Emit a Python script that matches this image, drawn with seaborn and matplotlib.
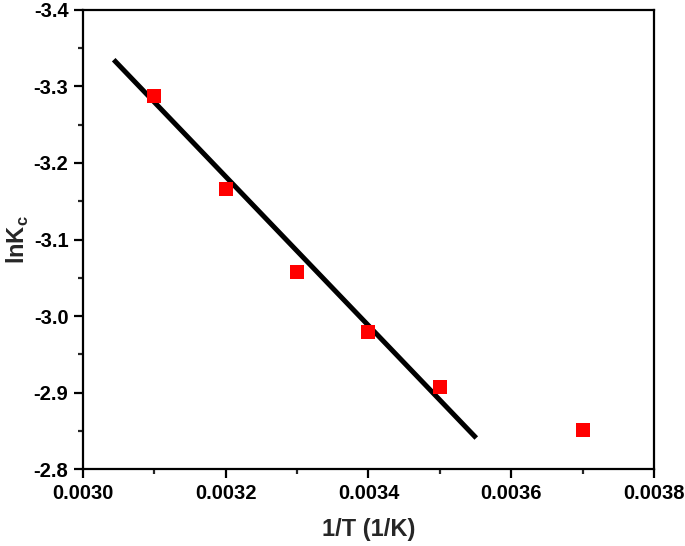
import matplotlib
matplotlib.use('Agg')
import matplotlib.pyplot as plt
import seaborn as sns
import pandas as pd
from matplotlib.ticker import MultipleLocator

# measured points
inv_t = [0.0031, 0.0032, 0.0033, 0.0034, 0.0035, 0.0037]
ln_kc = [-3.288, -3.166, -3.058, -2.979, -2.907, -2.851]

# linear fit line end points
fit_x = [0.003043, 0.003551]
fit_y = [-3.335, -2.8405]

sns.set_theme(style='ticks')
plt.rcParams['font.family'] = ['Liberation Sans', 'DejaVu Sans']
plt.rcParams['font.weight'] = 'bold'
plt.rcParams['mathtext.fontset'] = 'custom'
plt.rcParams['mathtext.bf'] = 'Liberation Sans:bold'

df_pts = pd.DataFrame({'x': inv_t, 'y': ln_kc})
df_fit = pd.DataFrame({'x': fit_x, 'y': fit_y})

fig = plt.figure(figsize=(6.85, 5.46), dpi=100)
ax = fig.add_axes([0.1212, 0.141, 0.8335, 0.8407])

sns.lineplot(data=df_fit, x='x', y='y', color='black', linewidth=3.6, ax=ax,
             solid_capstyle='butt', zorder=2)
sns.scatterplot(data=df_pts, x='x', y='y', marker='s', color='#ff0000', s=105,
                linewidth=0, ax=ax, zorder=3)

ax.set_xlim(0.0030, 0.0038)
ax.set_ylim(-2.8, -3.4)
ax.xaxis.set_major_locator(MultipleLocator(0.0002))
ax.xaxis.set_minor_locator(MultipleLocator(0.0001))
ax.yaxis.set_major_locator(MultipleLocator(0.1))
ax.yaxis.set_minor_locator(MultipleLocator(0.05))
ax.xaxis.set_major_formatter(plt.FuncFormatter(lambda v, p: f'{v:.4f}'))
ax.yaxis.set_major_formatter(plt.FuncFormatter(lambda v, p: f'{v:.1f}'))

for s in ax.spines.values():
    s.set_linewidth(1.6)
    s.set_color('black')
ax.tick_params(which='major', direction='out', length=6.5, width=1.6,
               labelsize=14.5, colors='black', pad=4)
ax.tick_params(which='minor', direction='out', length=3.6, width=1.6)
for lab in ax.get_xticklabels() + ax.get_yticklabels():
    lab.set_fontweight('bold')

ax.set_xlabel('1/T (1/K)', fontsize=17, fontweight='bold', labelpad=11)
ax.set_ylabel(r'lnK$_\mathbf{c}$', fontsize=17, fontweight='bold', labelpad=2)

fig.savefig('out.png', dpi=100)
